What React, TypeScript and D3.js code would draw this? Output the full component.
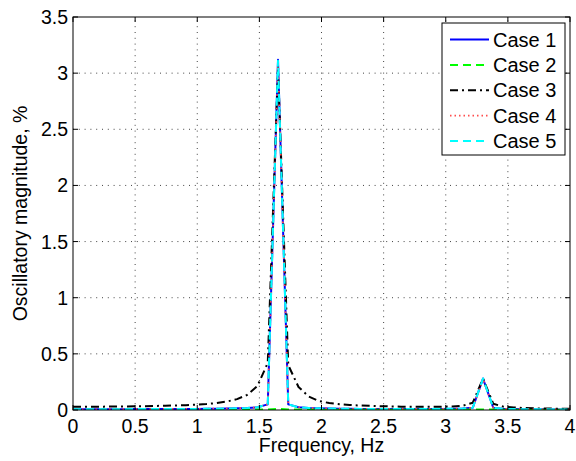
import React from "react";
import * as d3 from "d3";

// Frequency grid of the spectrum (Hz)
const freqHz = [
  0, 0.0825, 0.165, 0.2475, 0.33, 0.4125, 0.495, 0.5775, 0.66, 0.7425,
  0.825, 0.9075, 0.99, 1.0725, 1.155, 1.2375, 1.32, 1.4025, 1.485, 1.5675,
  1.65, 1.7325, 1.815, 1.8975, 1.98, 2.0625, 2.145, 2.2275, 2.31, 2.3925,
  2.475, 2.5575, 2.64, 2.7225, 2.805, 2.8875, 2.97, 3.0525, 3.135, 3.2175,
  3.3, 3.3825, 3.465, 3.5475, 3.63, 3.7125, 3.795, 3.8775, 3.96, 4.0425,
];

// Oscillatory magnitude (%) for each case
const case1 = [
  0.006, 0.006, 0.006, 0.007, 0.007, 0.007, 0.008, 0.008, 0.008, 0.009,
  0.009, 0.010, 0.010, 0.011, 0.012, 0.013, 0.015, 0.018, 0.024, 0.05,
  3.12, 0.05, 0.024, 0.018, 0.015, 0.013, 0.012, 0.011, 0.010, 0.010,
  0.009, 0.009, 0.009, 0.009, 0.009, 0.010, 0.010, 0.011, 0.013, 0.02,
  0.28, 0.02, 0.010, 0.008, 0.007, 0.006, 0.006, 0.005, 0.005, 0.005,
];
const case2 = [
  0.003, 0.003, 0.003, 0.003, 0.003, 0.003, 0.003, 0.003, 0.003, 0.003,
  0.003, 0.003, 0.003, 0.003, 0.003, 0.003, 0.003, 0.004, 0.004, 0.005,
  0.010, 0.005, 0.004, 0.004, 0.003, 0.003, 0.003, 0.003, 0.003, 0.003,
  0.003, 0.003, 0.003, 0.003, 0.003, 0.003, 0.003, 0.003, 0.003, 0.004,
  0.005, 0.004, 0.003, 0.003, 0.003, 0.003, 0.003, 0.003, 0.003, 0.003,
];
const case3 = [
  0.028, 0.028, 0.029, 0.030, 0.031, 0.032, 0.033, 0.034, 0.036, 0.038,
  0.040, 0.043, 0.047, 0.053, 0.062, 0.075, 0.097, 0.135, 0.215, 0.42,
  3.05, 0.40, 0.205, 0.12, 0.08, 0.062, 0.052, 0.045, 0.040, 0.037,
  0.034, 0.032, 0.030, 0.029, 0.028, 0.028, 0.029, 0.031, 0.038, 0.065,
  0.28, 0.055, 0.030, 0.022, 0.018, 0.015, 0.013, 0.012, 0.011, 0.010,
];
const case4 = [
  0.006, 0.006, 0.006, 0.007, 0.007, 0.007, 0.008, 0.008, 0.008, 0.009,
  0.009, 0.010, 0.010, 0.011, 0.012, 0.013, 0.015, 0.018, 0.024, 0.05,
  3.10, 0.05, 0.024, 0.018, 0.015, 0.013, 0.012, 0.011, 0.010, 0.010,
  0.009, 0.009, 0.009, 0.009, 0.009, 0.010, 0.010, 0.011, 0.013, 0.02,
  0.275, 0.02, 0.010, 0.008, 0.007, 0.006, 0.006, 0.005, 0.005, 0.005,
];
const case5 = [
  0.006, 0.006, 0.006, 0.007, 0.007, 0.007, 0.008, 0.008, 0.008, 0.009,
  0.009, 0.010, 0.010, 0.011, 0.012, 0.013, 0.015, 0.018, 0.024, 0.05,
  3.11, 0.05, 0.024, 0.018, 0.015, 0.013, 0.012, 0.011, 0.010, 0.010,
  0.009, 0.009, 0.009, 0.009, 0.009, 0.010, 0.010, 0.011, 0.013, 0.02,
  0.28, 0.02, 0.010, 0.008, 0.007, 0.006, 0.006, 0.005, 0.005, 0.005,
];

const caseNames = ["Case 1", "Case 2", "Case 3", "Case 4", "Case 5"];
const xTicks = [0, 0.5, 1, 1.5, 2, 2.5, 3, 3.5, 4];
const yTicks = [0, 0.5, 1, 1.5, 2, 2.5, 3, 3.5];
const xLabel = "Frequency, Hz";
const yLabel = "Oscillatory magnitude, %";

const styles = [
  { color: "#0000ff", dash: "none", width: 2 },
  { color: "#00ff00", dash: "8,5", width: 2 },
  { color: "#000000", dash: "8,4,2,4", width: 2 },
  { color: "#ff4d4d", dash: "1.5,3", width: 1.8 },
  { color: "#00ffff", dash: "8,5", width: 2 },
];

const W = 576;
const H = 461;
const L = 73;
const R = 570;
const T = 17;
const B = 410;
const FONT = "'Liberation Sans', Arial, Helvetica, sans-serif";

export default function App() {
  const x = d3.scaleLinear().domain([0, 4]).range([L, R]);
  const y = d3.scaleLinear().domain([0, 3.5]).range([B, T]);
  const series = [case1, case2, case3, case4, case5];
  const line = d3
    .line<number>()
    .x((_, i) => x(freqHz[i]))
    .y((d) => y(d));

  const legX0 = 442;
  const legY0 = 23;
  const legW = 123;
  const legH = 132;
  const rowH = 25.4;

  return (
    <svg
      width={W}
      height={H}
      style={{ position: "absolute", left: 0, top: 0, background: "#fff" }}
      fontFamily={FONT}
    >
      <defs>
        <clipPath id="plotArea">
          <rect x={L} y={T} width={R - L} height={B - T} />
        </clipPath>
      </defs>
      <rect x={0} y={0} width={W} height={H} fill="#fff" />

      {/* dotted grid */}
      <g stroke="#444" strokeWidth={1} strokeDasharray="1,4.8">
        {xTicks.slice(1, -1).map((t) => (
          <line key={"gx" + t} x1={x(t)} x2={x(t)} y1={B} y2={T} />
        ))}
        {yTicks.slice(1, -1).map((t) => (
          <line key={"gy" + t} x1={L} x2={R} y1={y(t)} y2={y(t)} />
        ))}
      </g>

      {/* spectra */}
      <g clipPath="url(#plotArea)" fill="none" strokeLinejoin="round">
        {series.map((s, i) => (
          <path
            key={caseNames[i]}
            d={line(s) || ""}
            stroke={styles[i].color}
            strokeWidth={styles[i].width}
            strokeDasharray={styles[i].dash}
          />
        ))}
      </g>

      {/* box and inward ticks */}
      <rect x={L} y={T} width={R - L} height={B - T} fill="none" stroke="#000" strokeWidth={1} />
      <g stroke="#000" strokeWidth={1}>
        {xTicks.map((t) => (
          <g key={"tx" + t}>
            <line x1={x(t)} x2={x(t)} y1={B} y2={B - 5} />
            <line x1={x(t)} x2={x(t)} y1={T} y2={T + 5} />
          </g>
        ))}
        {yTicks.map((t) => (
          <g key={"ty" + t}>
            <line x1={L} x2={L + 5} y1={y(t)} y2={y(t)} />
            <line x1={R} x2={R - 5} y1={y(t)} y2={y(t)} />
          </g>
        ))}
      </g>

      {/* tick labels */}
      <g fontSize={19.5} fill="#000">
        {xTicks.map((t) => (
          <text key={"lx" + t} x={x(t)} y={433} textAnchor="middle">
            {String(t)}
          </text>
        ))}
        {yTicks.map((t) => (
          <text key={"ly" + t} x={68} y={y(t) + 7} textAnchor="end">
            {String(t)}
          </text>
        ))}
      </g>

      {/* axis titles */}
      <text x={(L + R) / 2} y={452} textAnchor="middle" fontSize={19.5} fill="#000">
        {xLabel}
      </text>
      <text
        transform={`translate(27, ${(T + B) / 2}) rotate(-90)`}
        textAnchor="middle"
        fontSize={19.5}
        fill="#000"
      >
        {yLabel}
      </text>

      {/* legend */}
      <rect x={legX0} y={legY0} width={legW} height={legH} fill="#fff" stroke="#000" strokeWidth={1} />
      {caseNames.map((name, i) => {
        const cy = legY0 + 16.5 + i * rowH;
        return (
          <g key={"leg" + name}>
            <line
              x1={450}
              x2={489}
              y1={cy}
              y2={cy}
              stroke={styles[i].color}
              strokeWidth={styles[i].width}
              strokeDasharray={styles[i].dash}
            />
            <text x={493} y={cy + 7} fontSize={20} fill="#000">
              {name}
            </text>
          </g>
        );
      })}
    </svg>
  );
}
